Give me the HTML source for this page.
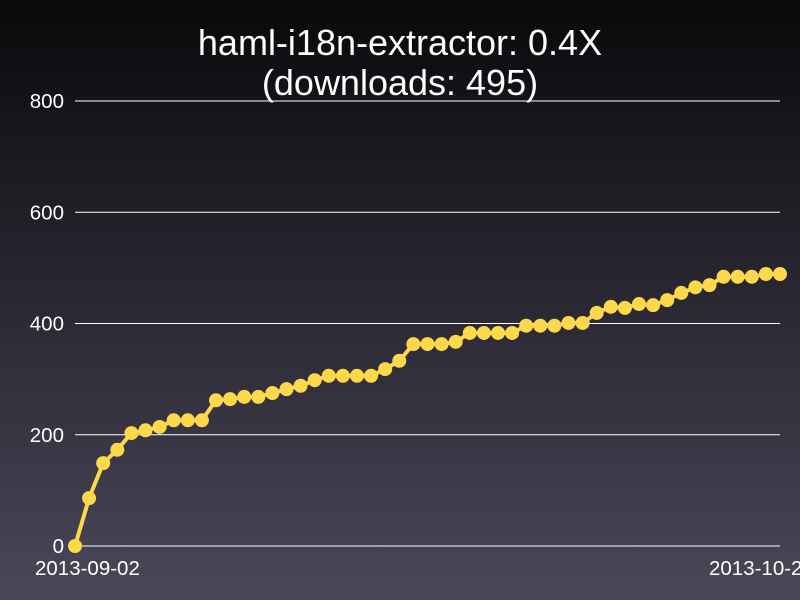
<!DOCTYPE html>
<html><head><meta charset="utf-8"><style>
body{margin:0;width:800px;height:600px;overflow:hidden;background:linear-gradient(#09090b,#4a4759);font-family:"Liberation Sans",sans-serif}
svg{display:block}
</style></head><body>
<svg width="800" height="600" id="c">
<text x="400" y="55" fill="#fff" font-size="36" text-anchor="middle">haml-i18n-extractor: 0.4X</text>
<text x="400" y="95" fill="#fff" font-size="36" text-anchor="middle">(downloads: 495)</text>
</svg>
<script>
const yTicks=[0,200,400,600,800];
const xLabels=["2013-09-02","2013-10-22"];
const values=[0,86,149,173,203,208,214,226,226,226,262,264,268,268,275,282,288,298,306,306,306,306,318,333,363,363,363,367,383,383,383,383,396,396,396,401,401,419,430,428,435,433,442,455,465,469,484,484,484,489,489];
const svg=document.getElementById('c');const NS='http://www.w3.org/2000/svg';
const x0=75,x1=780,y0=546,y1=101;
const yS=v=>y0-(v/800)*(y0-y1);
const xS=i=>x0+i*(x1-x0)/(values.length-1);
function mk(t,a){const e=document.createElementNS(NS,t);for(const k in a)e.setAttribute(k,a[k]);svg.appendChild(e);return e;}
yTicks.forEach(v=>{
 const l=mk('line',{x1:75,x2:780,y1:yS(v),y2:yS(v),stroke:'#fff','stroke-width':1});
 
 
 const t=mk('text',{x:64,y:yS(v)+7,fill:'#fff','font-size':20.5,'text-anchor':'end'});t.textContent=v;
 
 
});
xLabels.forEach((s,i)=>{const t=mk('text',{x:i?709:35,y:575,fill:'#fff','font-size':20.5});t.textContent=s;
 
 });
const p=mk('polyline',{points:values.map((v,i)=>xS(i)+','+yS(v)).join(' '),fill:'none',stroke:'#fdd84b','stroke-width':4});


values.forEach((v,i)=>{const c=mk('circle',{cx:xS(i),cy:yS(v),r:7,fill:'#fdd84b'});
 
 });
</script>
</body></html>
